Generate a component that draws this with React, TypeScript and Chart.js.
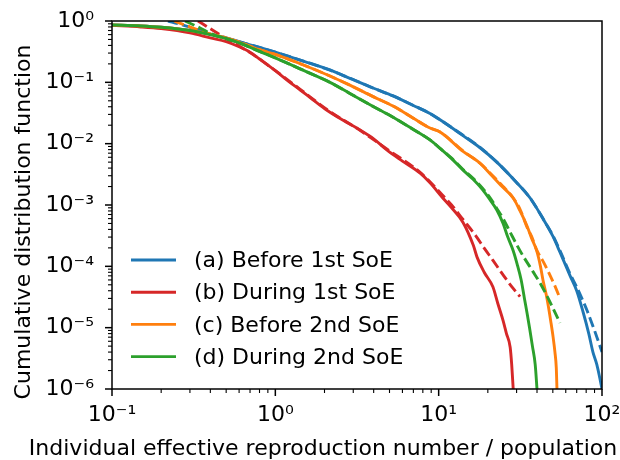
import React, { useEffect, useRef } from "react";
import { Chart, registerables } from "chart.js";

Chart.register(...registerables);

const FONT = "'DejaVu Sans', sans-serif";

const X_MAJOR = [0.1, 1, 10, 100];
const X_TICK_LABELS = ["10⁻¹", "10⁰", "10¹", "10²"];
const Y_MAJOR = [1e-6, 1e-5, 1e-4, 1e-3, 1e-2, 1e-1, 1];
const Y_TICK_LABELS = ["10⁻⁶", "10⁻⁵", "10⁻⁴", "10⁻³", "10⁻²", "10⁻¹", "10⁰"];
const X_TITLE = "Individual effective reproduction number / population";
const Y_TITLE = "Cumulative distribution function";
const LABELS = ["(a) Before 1st SoE", "(b) During 1st SoE", "(c) Before 2nd SoE", "(d) During 2nd SoE"];
const COLORS = ["#1f77b4", "#d62728", "#ff7f0e", "#2ca02c"];

// (a) Before 1st SoE — empirical
const A_X = [0.1, 0.15, 0.2, 0.3, 0.4, 0.5, 0.6, 0.8, 1, 1.5, 2.16, 2.86, 4, 5.26, 7, 8.85, 10.2, 14.1, 18, 22.7, 28.1, 36.3, 43.5, 50, 55.3, 63.8, 70, 76.6, 83, 88, 93, 97, 100];
const A_Y = [0.86, 0.83, 0.79, 0.70, 0.61, 0.53, 0.46, 0.37, 0.31, 0.22, 0.159, 0.116, 0.08, 0.06, 0.042, 0.031, 0.0245, 0.0135, 0.0085, 0.005, 0.0028, 0.0013, 6e-4, 3.1e-4, 1.7e-4, 7e-5, 4e-5, 1.8e-5, 8e-6, 4e-6, 2.5e-6, 1.5e-6, 1e-6];
// (a) fit
const AF_X = [0.22, 0.26, 0.3, 0.35, 0.4, 0.5, 0.6, 0.8, 1, 1.5, 2.16, 2.86, 4, 5.26, 7, 8.85, 10.2, 14.1, 18, 22.7, 28.1, 36.3, 43.5, 50, 55.3, 63.8, 70, 76.6, 81, 90, 100];
const AF_Y = [1, 0.89, 0.79, 0.69, 0.61, 0.525, 0.46, 0.37, 0.31, 0.22, 0.158, 0.117, 0.08, 0.06, 0.042, 0.031, 0.0245, 0.0137, 0.0086, 0.005, 0.0028, 0.0013, 6e-4, 3.2e-4, 1.8e-4, 7.5e-5, 4.6e-5, 2.7e-5, 1.9e-5, 9e-6, 4e-6];

// (b) During 1st SoE — empirical
const B_X = [0.1, 0.15, 0.2, 0.3, 0.4, 0.5, 0.6, 0.7, 0.8, 1, 1.2, 1.42, 1.7, 2.07, 2.6, 3.3, 4, 4.81, 6, 7.7, 8.85, 10.6, 12, 14.1, 16.3, 17.2, 19, 21.5, 23, 24.8, 26, 27.4, 28, 28.6];
const B_Y = [0.85, 0.80, 0.75, 0.64, 0.53, 0.46, 0.38, 0.31, 0.24, 0.155, 0.105, 0.075, 0.052, 0.035, 0.024, 0.0167, 0.012, 0.0079, 0.0052, 0.0033, 0.0023, 0.0013, 9e-4, 5.2e-4, 2.2e-4, 1.4e-4, 8e-5, 4.6e-5, 2.5e-5, 1.3e-5, 8e-6, 4.8e-6, 2.5e-6, 1e-6];
// (b) fit
const BF_X = [0.336, 0.4, 0.5, 0.6, 0.7, 0.8, 1, 1.42, 2.07, 3.3, 4.81, 7.7, 10.2, 12, 14.1, 16.8, 19, 21.5, 24, 26.1, 28.5, 31.5];
const BF_Y = [1, 0.75, 0.52, 0.39, 0.305, 0.24, 0.155, 0.077, 0.036, 0.0165, 0.0082, 0.0034, 0.0016, 0.001, 5.8e-4, 3.2e-4, 1.98e-4, 1.25e-4, 8.2e-5, 6e-5, 4.4e-5, 3.2e-5];

// (c) Before 2nd SoE — empirical
const C_X = [0.1, 0.15, 0.2, 0.3, 0.4, 0.5, 0.6, 0.8, 1, 1.5, 2.16, 2.86, 4, 5.26, 7, 8.85, 10.2, 14.1, 17.9, 20.7, 24, 28.6, 31.5, 34.8, 37, 39.8, 42, 43.5, 45.5, 47, 48.5, 50.2, 51.5, 52.5, 53];
const C_Y = [0.86, 0.83, 0.79, 0.70, 0.61, 0.53, 0.45, 0.34, 0.285, 0.19, 0.127, 0.09, 0.058, 0.041, 0.026, 0.018, 0.0155, 0.0075, 0.0048, 0.0032, 0.0021, 0.0013, 8e-4, 4.5e-4, 2.9e-4, 1.8e-4, 1e-4, 6e-5, 3.5e-5, 2.2e-5, 1.3e-5, 7e-6, 4e-6, 2.2e-6, 1e-6];
// (c) fit
const CF_X = [0.24, 0.28, 0.33, 0.4, 0.5, 0.6, 0.8, 1, 1.5, 2.16, 2.86, 4, 5.26, 7, 8.85, 10.2, 14.1, 17.9, 20.7, 24, 28.6, 31.5, 34.8, 37, 40, 44, 48, 52, 55.3];
const CF_Y = [1, 0.86, 0.73, 0.61, 0.525, 0.455, 0.34, 0.285, 0.19, 0.127, 0.09, 0.058, 0.041, 0.026, 0.018, 0.0155, 0.0076, 0.0048, 0.0033, 0.0022, 0.0013, 8.5e-4, 4.3e-4, 3.1e-4, 1.8e-4, 1.15e-4, 7.2e-5, 4.5e-5, 3e-5];

// (d) During 2nd SoE — empirical
const D_X = [0.1, 0.15, 0.2, 0.3, 0.4, 0.5, 0.6, 0.8, 1, 1.5, 2.16, 2.86, 4, 5.26, 7, 8.85, 10.2, 12, 14.1, 16.3, 18.5, 20.7, 22.7, 24.8, 26.5, 28.6, 30.2, 32, 33.5, 34.8, 36, 37.5, 39, 40];
const D_Y = [0.86, 0.83, 0.79, 0.70, 0.60, 0.52, 0.44, 0.32, 0.25, 0.155, 0.10, 0.066, 0.04, 0.027, 0.017, 0.0115, 0.0084, 0.0057, 0.0037, 0.0026, 0.0018, 0.0012, 8.3e-4, 5e-4, 3e-4, 1.8e-4, 1.1e-4, 6e-5, 3e-5, 1.7e-5, 1e-5, 5e-6, 2.5e-6, 1e-6];
// (d) fit
const DF_X = [0.28, 0.33, 0.4, 0.5, 0.6, 0.8, 1, 1.5, 2.16, 2.86, 4, 5.26, 7, 8.85, 10.2, 12, 14.1, 16.3, 18.5, 20.7, 22.7, 24.8, 27.4, 30.2, 33, 37.8, 42, 46, 50, 55.3];
const DF_Y = [1, 0.82, 0.63, 0.51, 0.44, 0.32, 0.25, 0.155, 0.10, 0.066, 0.04, 0.027, 0.017, 0.0115, 0.0084, 0.0058, 0.0038, 0.0027, 0.0019, 0.0013, 8.8e-4, 6e-4, 3.6e-4, 2.2e-4, 1.45e-4, 8.2e-5, 5.2e-5, 3.3e-5, 2.1e-5, 1.2e-5];

const SERIES = [
  { xs: A_X, ys: A_Y, c: 0, fit: false },
  { xs: AF_X, ys: AF_Y, c: 0, fit: true },
  { xs: B_X, ys: B_Y, c: 1, fit: false },
  { xs: BF_X, ys: BF_Y, c: 1, fit: true },
  { xs: C_X, ys: C_Y, c: 2, fit: false },
  { xs: CF_X, ys: CF_Y, c: 2, fit: true },
  { xs: D_X, ys: D_Y, c: 3, fit: false },
  { xs: DF_X, ys: DF_Y, c: 3, fit: true },
];

function logTicks(majors: number[]) {
  const out: { value: number; major: boolean }[] = [];
  for (let i = 0; i < majors.length; i++) {
    out.push({ value: majors[i], major: true });
    if (i < majors.length - 1) {
      for (let m = 2; m <= 9; m++) out.push({ value: m * majors[i], major: false });
    }
  }
  return out;
}

function labelFor(majors: number[], labels: string[], v: number) {
  const i = majors.findIndex((m) => Math.abs(Math.log10(m) - Math.log10(v)) < 1e-6);
  return i >= 0 ? labels[i] : "";
}

const decorPlugin = {
  id: "decor",
  afterDraw(chart: any) {
    const { ctx, chartArea: a } = chart;
    const xs = chart.scales.x;
    const ys = chart.scales.y;
    ctx.save();
    ctx.strokeStyle = "#000";
    for (const t of xs.ticks) {
      const p = xs.getPixelForValue(t.value);
      ctx.lineWidth = t.major ? 1.5 : 1.1;
      const len = t.major ? 7 : 4;
      ctx.beginPath();
      ctx.moveTo(p, a.bottom);
      ctx.lineTo(p, a.bottom + len);
      ctx.stroke();
    }
    for (const t of ys.ticks) {
      const p = ys.getPixelForValue(t.value);
      ctx.lineWidth = t.major ? 1.5 : 1.1;
      const len = t.major ? 7 : 4;
      ctx.beginPath();
      ctx.moveTo(a.left, p);
      ctx.lineTo(a.left - len, p);
      ctx.stroke();
    }
    ctx.lineWidth = 1.5;
    ctx.strokeRect(a.left, a.top, a.right - a.left, a.bottom - a.top);

    ctx.fillStyle = "#000";
    ctx.font = `22px ${FONT}`;
    ctx.textAlign = "center";
    ctx.textBaseline = "alphabetic";
    ctx.fillText(X_TITLE, 323, 455);
    ctx.save();
    ctx.translate(30, 222);
    ctx.rotate(-Math.PI / 2);
    ctx.fillText(Y_TITLE, 0, 0);
    ctx.restore();

    // legend
    ctx.textAlign = "left";
    ctx.textBaseline = "middle";
    LABELS.forEach((lab, i) => {
      const y = a.bottom - 129 + i * 32.2;
      ctx.strokeStyle = COLORS[i];
      ctx.lineWidth = 2.9;
      ctx.beginPath();
      ctx.moveTo(a.left + 19, y);
      ctx.lineTo(a.left + 64, y);
      ctx.stroke();
      ctx.fillStyle = "#000";
      ctx.fillText(lab, a.left + 82, y + 1.5);
    });
    ctx.restore();
  },
};

export default function App() {
  const ref = useRef<HTMLCanvasElement>(null);
  useEffect(() => {
    const canvas = ref.current;
    if (!canvas) return;
    Chart.defaults.font.family = FONT;
    const datasets = SERIES.map((s, idx) => ({
      label: s.fit ? LABELS[s.c] + " fit" : LABELS[s.c],
      data: s.xs.map((x, i) => ({ x, y: s.ys[i] })),
      borderColor: COLORS[s.c],
      backgroundColor: COLORS[s.c],
      borderWidth: 2.9,
      borderDash: s.fit ? [10.3, 4.4] : [],
      pointRadius: 0,
      fill: false,
      cubicInterpolationMode: "monotone" as const,
      order: SERIES.length - idx,
    }));
    const chart = new Chart(canvas, {
      type: "line",
      data: { datasets },
      plugins: [decorPlugin],
      options: {
        animation: false,
        responsive: false,
        maintainAspectRatio: false,
        devicePixelRatio: 1,
        layout: { padding: { top: 21, right: 18, bottom: 0, left: 0 } },
        plugins: { legend: { display: false }, tooltip: { enabled: false } },
        scales: {
          x: {
            type: "logarithmic",
            min: 0.1,
            max: 100,
            afterBuildTicks: (scale: any) => {
              scale.ticks = logTicks(X_MAJOR);
            },
            afterFit: (scale: any) => {
              scale.height = 71;
              scale.paddingLeft = 0;
              scale.paddingRight = 0;
            },
            grid: { display: false, drawTicks: false },
            border: { display: false },
            ticks: {
              autoSkip: false,
              maxRotation: 0,
              minRotation: 0,
              padding: 13,
              color: "#000",
              font: { size: 22, family: FONT },
              callback: (v: any) => labelFor(X_MAJOR, X_TICK_LABELS, Number(v)),
            },
          },
          y: {
            type: "logarithmic",
            min: 1e-6,
            max: 1,
            afterBuildTicks: (scale: any) => {
              scale.ticks = logTicks(Y_MAJOR);
            },
            afterFit: (scale: any) => {
              scale.width = 112;
              scale.paddingTop = 0;
              scale.paddingBottom = 0;
            },
            grid: { display: false, drawTicks: false },
            border: { display: false },
            ticks: {
              autoSkip: false,
              padding: 18,
              color: "#000",
              font: { size: 22, family: FONT },
              callback: (v: any) => labelFor(Y_MAJOR, Y_TICK_LABELS, Number(v)),
            },
          },
        },
      } as any,
    });
    return () => chart.destroy();
  }, []);
  return (
    <div style={{ position: "absolute", left: 0, top: 0, width: 620, height: 460, background: "#fff" }}>
      <canvas ref={ref} width={620} height={460} style={{ display: "block", width: 620, height: 460 }} />
    </div>
  );
}
